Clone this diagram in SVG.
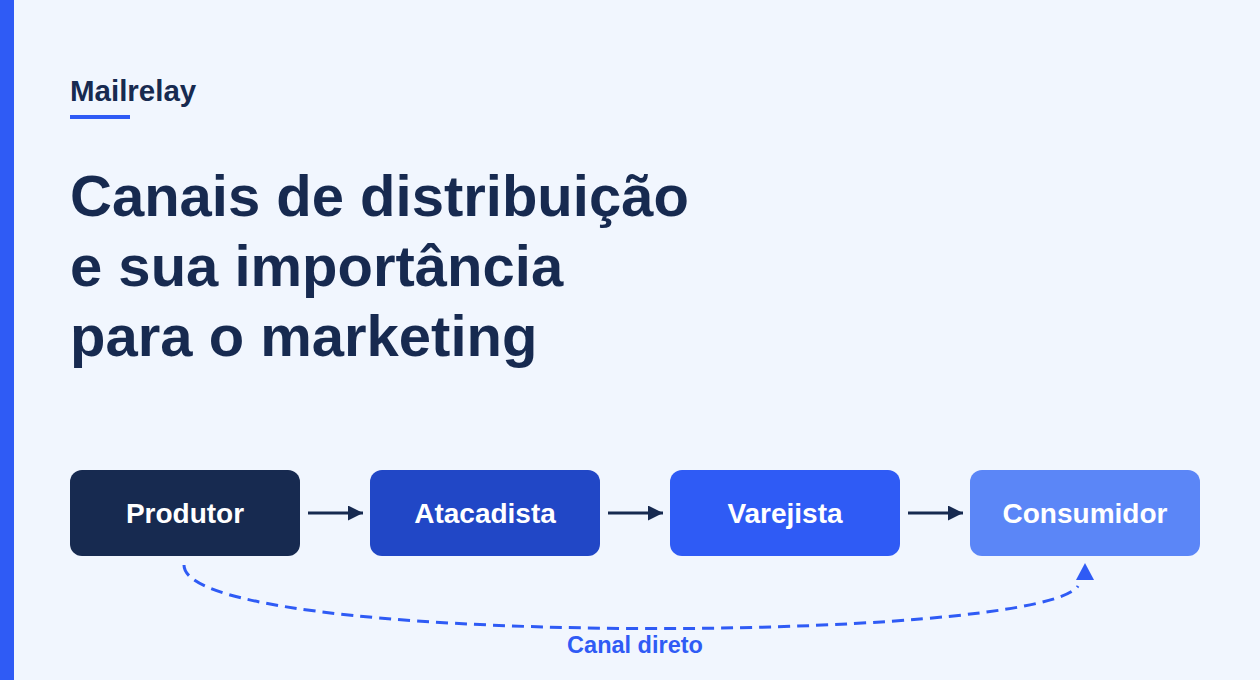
<svg xmlns="http://www.w3.org/2000/svg" width="1260" height="680" viewBox="0 0 1260 680">
<defs>
<style>
.t{font-family:"Liberation Sans",Arial,sans-serif;font-weight:bold}
.title{font-size:58px;fill:#172a50}
.lbl{font-size:28px;fill:#ffffff;text-anchor:middle}
.arr{stroke:#172a50;stroke-width:3;fill:none;marker-end:url(#ah)}
</style>
<marker id="ah" viewBox="0 0 10 10" refX="10" refY="5" markerWidth="5" markerHeight="5" markerUnits="strokeWidth" orient="auto">
<path d="M0,0 L10,5 L0,10 z" fill="#172a50"/>
</marker>
</defs>
<rect width="1260" height="680" fill="#f1f6fe"/>
<rect x="0" y="0" width="14" height="680" fill="#2f5bf5"/>
<g id="brand">
<text class="t" x="70" y="101" font-size="29.5" fill="#172a50">Mailrelay</text>
<rect x="70" y="115" width="60" height="4" fill="#2f5bf5"/>
</g>
<g id="title" class="t title">
<text x="70" y="216">Canais de distribuição</text>
<text x="70" y="286">e sua importância</text>
<text x="70" y="356">para o marketing</text>
</g>
<g id="connectors">
<line class="arr" x1="308" y1="513" x2="363" y2="513"/>
<line class="arr" x1="608" y1="513" x2="663" y2="513"/>
<line class="arr" x1="908" y1="513" x2="963" y2="513"/>
<path d="M184,565 C184,648 1040,644 1078,586" fill="none" stroke="#2f5bf5" stroke-width="3" stroke-dasharray="12 7"/>
<path d="M1085,563 L1094,580 L1076,580 z" fill="#2f5bf5"/>
<text class="t" x="635" y="653" font-size="23.5" fill="#2f5bf5" text-anchor="middle">Canal direto</text>
</g>
<g id="produtor">
<rect x="70" y="470" width="230" height="86" rx="12" fill="#172a50"/>
<text class="t lbl" x="185" y="523">Produtor</text>
</g>
<g id="atacadista">
<rect x="370" y="470" width="230" height="86" rx="12" fill="#2147c6"/>
<text class="t lbl" x="485" y="523">Atacadista</text>
</g>
<g id="varejista">
<rect x="670" y="470" width="230" height="86" rx="12" fill="#2f5bf5"/>
<text class="t lbl" x="785" y="523">Varejista</text>
</g>
<g id="consumidor">
<rect x="970" y="470" width="230" height="86" rx="12" fill="#5b86f7"/>
<text class="t lbl" x="1085" y="523">Consumidor</text>
</g>
</svg>
